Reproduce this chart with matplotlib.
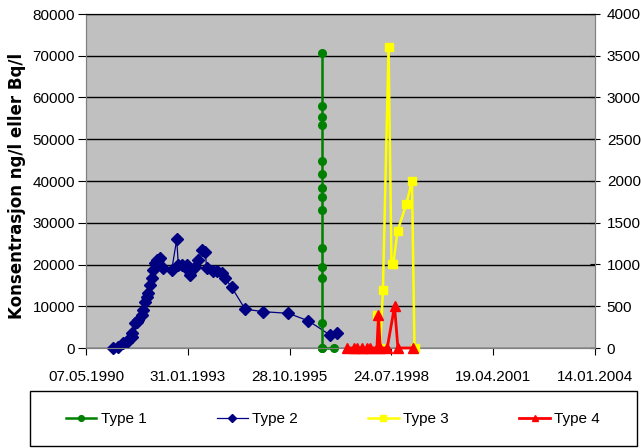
import numpy as np
import pandas as pd
import matplotlib
matplotlib.use('Agg')
from matplotlib import pyplot as plt
from matplotlib.ticker import FuncFormatter, MultipleLocator
from matplotlib.patches import Rectangle

plt.rcParams['font.family'] = ['Liberation Sans', 'DejaVu Sans']

# Datoer er Excel-serienummer (dager fra 30.12.1899)
dato_type1 = [35323] * 15 + [35438]
verdi_type1 = [70600, 58000, 55400, 53400, 44900, 41700, 38400, 36100, 33100,
               23900, 19300, 16700, 5900, 0, 0, 0]

dato_type2 = [33268, 33318, 33367, 33400, 33432, 33449, 33455, 33482, 33498, 33514,
              33547, 33563, 33580, 33596, 33612, 33629, 33645, 33662, 33678, 33695,
              33711, 33727, 33760, 33842, 33891, 33907, 33940, 33973, 33989, 34022,
              34071, 34104, 34137, 34170, 34186, 34251, 34284, 34334, 34366, 34432,
              34563, 34743, 34989, 35185, 35398, 35464]
verdi_type2 = [0, 200, 1200, 1500, 2300, 2700, 3500, 5900, 6300, 6700,
               7900, 9100, 11100, 12300, 13100, 15100, 16700, 18700, 20300, 21100,
               21100, 21500, 19100, 18700, 26000, 19900, 19900, 19500, 19900, 17500,
               19500, 21100, 23500, 23100, 19100, 18500, 18500, 17900, 16700, 14500,
               9300, 8700, 8300, 6500, 3100, 3500]

dato_type3 = [35858, 35890, 35917, 35972, 36001, 36018, 36060, 36146, 36202, 36227]
verdi_type3 = [400, 0, 700, 3600, 1000, 1000, 1400, 1720, 2000, 0]

dato_type4 = [35563, 35628, 35664, 35710, 35759, 35792, 35858, 35873, 35890,
              35959, 36031, 36064, 36214]
verdi_type4 = [0, 0, 0, 0, 0, 0, 0, 400, 0, 0, 500, 0, 0]


def excel_dato(v, pos=None):
    return pd.to_datetime(v, unit='D', origin='1899-12-30').strftime('%d.%m.%Y')


fig = plt.figure(figsize=(6.41, 4.48), dpi=100)
ax = fig.add_axes([86 / 641, 1 - 348 / 448, 509 / 641, 334 / 448])
ax.set_facecolor('#C0C0C0')
ax2 = ax.twinx()

l2, = ax.plot(dato_type2, verdi_type2, color='#000080', lw=0.9, marker='D',
              ms=6, label='Type 2', clip_on=False, zorder=3)
l1, = ax.plot(dato_type1, verdi_type1, color='#008000', lw=1.8, marker='o',
              ms=5.5, label='Type 1', clip_on=False, zorder=4)
l3, = ax2.plot(dato_type3, verdi_type3, color='#FFFF00', lw=1.8, marker='s',
               ms=5.5, label='Type 3', clip_on=False, zorder=3)
l4, = ax2.plot(dato_type4, verdi_type4, color='#FF0000', lw=2, marker='^',
               ms=6.5, label='Type 4', clip_on=False, zorder=4)

ax.set_xlim(33000, 38000)
ax.set_ylim(0, 80000)
ax2.set_ylim(0, 4000)
ax.xaxis.set_major_locator(MultipleLocator(1000))
ax.xaxis.set_major_formatter(FuncFormatter(excel_dato))
ax.yaxis.set_major_locator(MultipleLocator(10000))
ax2.yaxis.set_major_locator(MultipleLocator(500))

ax.grid(axis='y', color='black', lw=1)
ax.set_axisbelow(True)

for a in (ax, ax2):
    for s in a.spines.values():
        s.set_color('#808080')
    a.spines['top'].set_color('black')

ax.tick_params(axis='y', labelsize=11, length=6, pad=2)
ax.tick_params(axis='x', labelsize=11, length=5, pad=11)
ax2.tick_params(axis='y', labelsize=11, length=7, direction='inout', pad=5)

fig.text(17 / 641, 0.585, 'Konsentrasjon ng/l eller Bq/l', rotation=90,
         ha='center', va='center', fontsize=12, fontweight='bold',
         family='DejaVu Sans')

# legendeboks under diagrammet
fig.patches.append(Rectangle((30 / 641, 2 / 448), 607 / 641, 55 / 448,
                             transform=fig.transFigure, fill=False,
                             edgecolor='black', lw=1))
fig.legend(handles=[l1, l2, l3, l4], ncol=4, loc='center',
           bbox_to_anchor=(333 / 641, 1 - 419 / 448), frameon=False,
           fontsize=11, handlelength=2.0, handletextpad=0.3,
           columnspacing=4.6, markerscale=0.75)

fig.savefig('out.png', dpi=100)
